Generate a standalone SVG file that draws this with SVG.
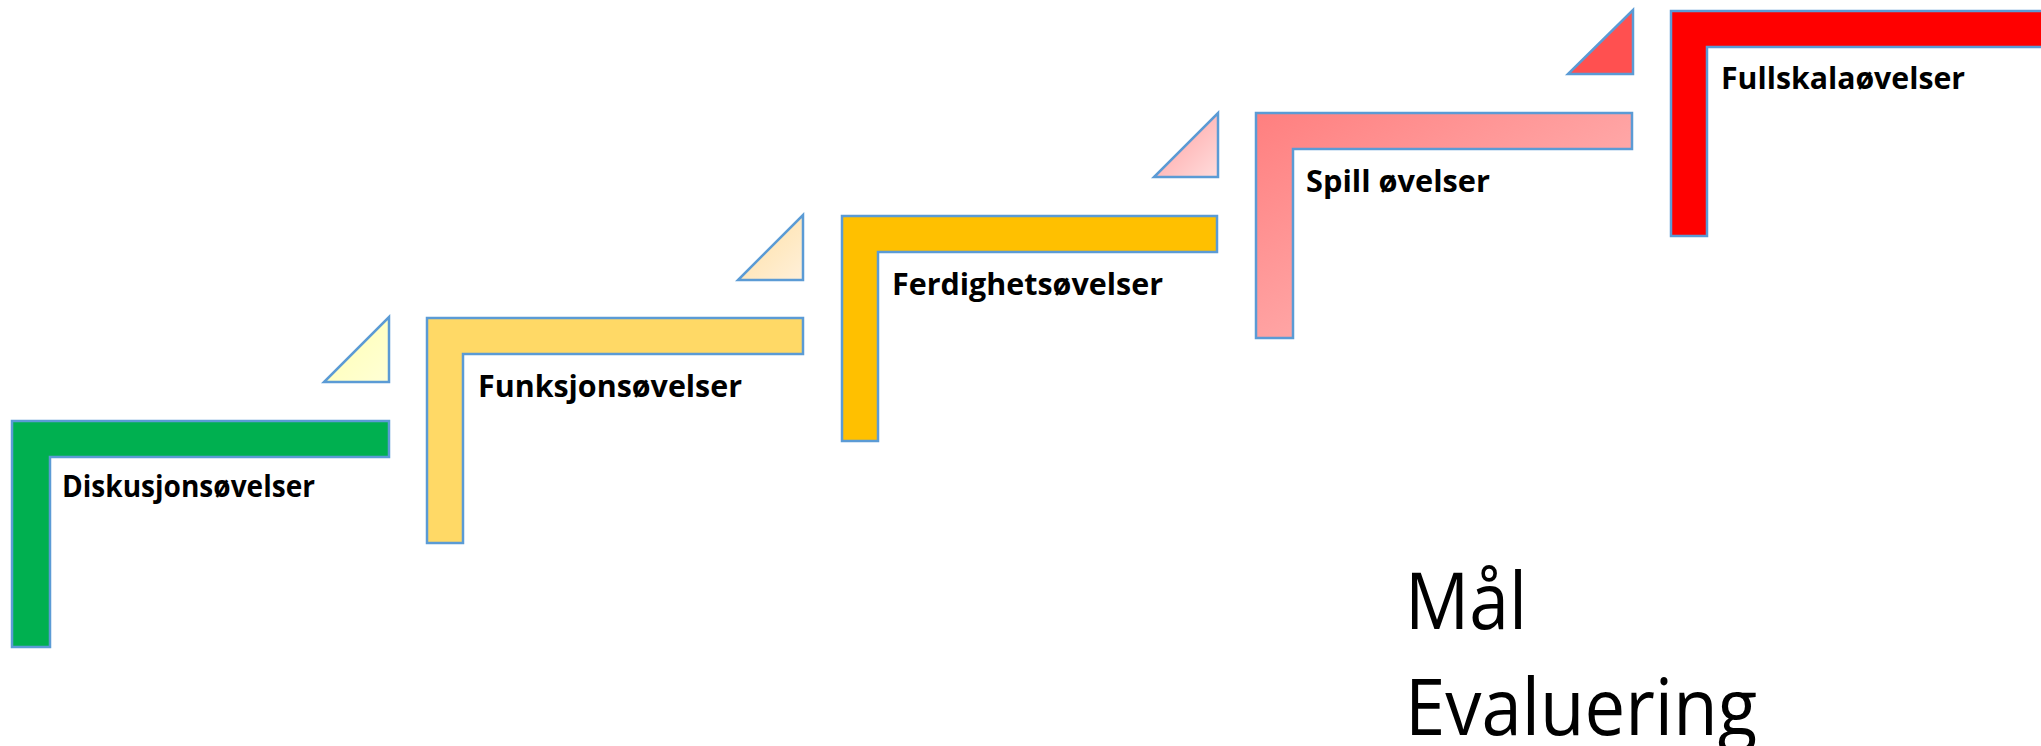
<svg xmlns="http://www.w3.org/2000/svg" width="2041" height="746" viewBox="0 0 2041 746">
<defs>
<linearGradient id="gTri1" x1="0" y1="0" x2="1" y2="1"><stop offset="0" stop-color="#FFFFB0"/><stop offset="1" stop-color="#FFFFD6"/></linearGradient>
<linearGradient id="gTri2" x1="0" y1="0" x2="1" y2="1"><stop offset="0" stop-color="#FFDFA0"/><stop offset="1" stop-color="#FFF0DA"/></linearGradient>
<linearGradient id="gTri3" x1="0" y1="0" x2="1" y2="1"><stop offset="0" stop-color="#FF9C9C"/><stop offset="1" stop-color="#FFDCDC"/></linearGradient>
<linearGradient id="gPink" x1="0" y1="0" x2="1" y2="1"><stop offset="0" stop-color="#FF7F7F"/><stop offset="1" stop-color="#FFC4C4"/></linearGradient>
<style>
.shape{stroke:#5B9BD5;stroke-width:2.5;stroke-linejoin:miter}
.lbl{font-family:"Open Sans","Noto Sans","Liberation Sans",sans-serif;font-weight:bold;font-size:30px;fill:#000}
.big{font-family:"Open Sans","Noto Sans","Liberation Sans",sans-serif;font-size:78px;fill:#000}
</style>
</defs>
<rect width="2041" height="746" fill="#fff"/>
<g id="connectors"/>
<g id="tri1"><polygon class="shape" fill="url(#gTri1)" points="389,317 389,382 324,382"/></g>
<g id="tri2"><polygon class="shape" fill="url(#gTri2)" points="803,215 803,280 738,280"/></g>
<g id="tri3"><polygon class="shape" fill="url(#gTri3)" points="1218,113 1218,177 1154,177"/></g>
<g id="tri4"><polygon class="shape" fill="#FF5050" points="1633,10 1633,74 1568,74"/></g>
<g id="step1">
<polygon class="shape" fill="#00B050" points="12,421 389,421 389,457 50,457 50,647 12,647"/>
<text class="lbl" x="62" y="497" textLength="253" lengthAdjust="spacingAndGlyphs">Diskusjonsøvelser</text>
</g>
<g id="step2">
<polygon class="shape" fill="#FFD966" points="427,318 803,318 803,354 463,354 463,543 427,543"/>
<text class="lbl" x="478" y="397" textLength="264" lengthAdjust="spacingAndGlyphs">Funksjonsøvelser</text>
</g>
<g id="step3">
<polygon class="shape" fill="#FFC000" points="842,216 1217,216 1217,252 878,252 878,441 842,441"/>
<text class="lbl" x="892" y="295" textLength="271" lengthAdjust="spacingAndGlyphs">Ferdighetsøvelser</text>
</g>
<g id="step4">
<polygon class="shape" fill="url(#gPink)" points="1256,113 1632,113 1632,149 1293,149 1293,338 1256,338"/>
<text class="lbl" x="1306" y="192" textLength="184" lengthAdjust="spacingAndGlyphs">Spill øvelser</text>
</g>
<g id="step5">
<polygon class="shape" fill="#FF0000" points="1671,11 2060,11 2060,47 1707,47 1707,236 1671,236"/>
<text class="lbl" x="1721" y="89" textLength="244" lengthAdjust="spacingAndGlyphs">Fullskalaøvelser</text>
</g>
<g id="goal">
<text class="big" x="1405" y="629" textLength="122" lengthAdjust="spacingAndGlyphs">Mål</text>
<text class="big" x="1405" y="735" textLength="352" lengthAdjust="spacingAndGlyphs">Evaluering</text>
</g>
</svg>
